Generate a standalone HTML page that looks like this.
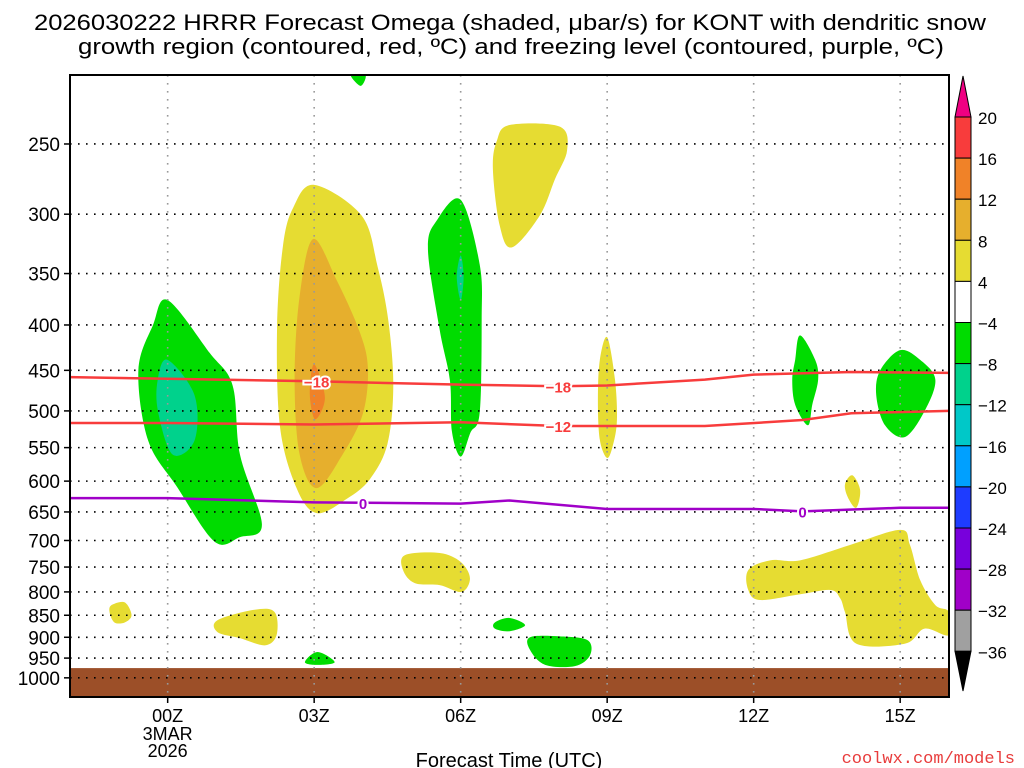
<!DOCTYPE html>
<html><head><meta charset="utf-8"><style>
html,body{margin:0;padding:0;background:#fff;}
svg{display:block;font-family:"Liberation Sans",sans-serif;}
</style></head><body>
<svg id="chart" width="1024" height="768" viewBox="0 0 1024 768" xmlns="http://www.w3.org/2000/svg">
<text x="34" y="30" font-size="22" textLength="952" lengthAdjust="spacingAndGlyphs">2026030222 HRRR Forecast Omega (shaded, μbar/s) for KONT with dendritic snow</text>
<text x="78" y="54" font-size="22" textLength="866" lengthAdjust="spacingAndGlyphs">growth region (contoured, red, ºC) and freezing level (contoured, purple, ºC)</text>
<g id="fills"></g>
<g id="grid"></g>
<g id="lines"></g>
<g id="axes"></g>
<g id="cbar"></g>
<text x="509" y="767" font-size="20" text-anchor="middle">Forecast Time (UTC)</text>
<text x="1015" y="763" font-size="17" fill="#e83c3c" text-anchor="end" font-family="Liberation Mono, monospace">coolwx.com/models</text>
</svg>
<script>
const NS="http://www.w3.org/2000/svg";
// ---- data ----
const pressureTicks=[250,300,350,400,450,500,550,600,650,700,750,800,850,900,950,1000];
const timeTicks=[0,3,6,9,12,15];
const timeLabels=["00Z","03Z","06Z","09Z","12Z","15Z"];
const cbarLevels=[20,16,12,8,4,-4,-8,-12,-16,-20,-24,-28,-32,-36];
const cbarColors=["#f83c3c","#f08228","#e6af2d","#e6dc32","#ffffff","#00dc00","#00d28c","#00c8c8","#00a0ff","#1e3cff","#7800dc","#a000c8","#a0a0a0"];
const t18Hours=[-2,0,3,6,8,9,11,12,14,16];
const t18Press=[458,460,463,467,469,468,461,455,452,453];
const t12Hours=[-2,0,3,6,8,11,13,14,16];
const t12Press=[516,516,518,515,520,520,512,503,500];
const t0Hours=[-2,0,3,6,7,9,12,13,15,16];
const t0Press=[627,627,634,636,631,645,645,649,643,643];
// omega regions as [hour, hPa] outlines
const yellowTop=[[7.0,238],[8.03,239],[8.18,254],[7.93,274],[7.62,301],[7.05,327],[6.8,309],[6.66,267],[6.74,248]];
const yellow03=[[3.0,278],[3.97,301],[4.3,344],[4.52,396],[4.62,469],[4.5,545],[4.14,597],[3.67,628],[3.05,652],[2.64,611],[2.3,521],[2.24,403],[2.36,326],[2.57,295]];
const orange03=[[2.98,320],[3.47,357],[3.93,407],[4.1,447],[4.0,503],[3.59,559],[3.05,611],[2.7,559],[2.6,460],[2.7,372]];
const dkorange03=[[3,443],[3.22,483],[3.02,511],[2.91,478]];
const green00=[[0,375],[0.86,430],[1.33,468],[1.48,560],[1.93,672],[1.48,694],[0.96,702],[0.2,610],[-0.4,540],[-0.6,450],[-0.3,400]];
const teal00=[[0,438],[0.55,480],[0.55,540],[0.1,560],[-0.2,500],[-0.2,460]];
const green06=[[6,289],[6.39,342],[6.43,395],[6.39,502],[6.2,529],[6,563],[5.82,527],[5.78,462],[5.57,405],[5.33,329],[5.51,305]];
const teal06=[[6,334],[6.06,353],[6,375],[5.92,353]];
const yellow09=[[9,413],[9.16,461],[9.2,512],[9.12,546],[9,565],[8.85,539],[8.81,486],[8.85,438]];
const green13=[[12.95,411],[13.26,438],[13.32,461],[13.2,492],[13.11,519],[12.85,492],[12.79,461],[12.85,438]];
const green15=[[15,427],[15.41,438],[15.72,461],[15.51,499],[15.1,535],[14.69,519],[14.51,480],[14.59,450]];
const yellow14=[[14.02,591],[14.18,614],[14.1,643],[13.93,626],[13.87,605]];
const yellowLR=[[11.89,756],[12.34,737],[12.95,737],[13.98,708],[15,681],[15.2,708],[15.41,776],[15.72,828],[16,843],[16,895],[15.5,880],[15.1,915],[14.1,915],[13.87,843],[13.77,813],[13.57,796],[12.95,805],[12.13,817],[11.89,796]];
const yellow05=[[4.86,727],[5.57,723],[6,740],[6.19,772],[6.02,800],[5.57,786],[5.06,782],[4.82,756]];
const yellowM1=[[-1.15,828],[-0.88,822],[-0.74,850],[-0.88,866],[-1.09,866],[-1.19,843]];
const yellow01=[[1.02,861],[1.78,838],[2.19,843],[2.23,895],[1.99,919],[1.48,902],[1.02,888]];
const green07=[[6.7,866],[7.0,856],[7.32,872],[7.0,886],[6.7,880]];
const green08=[[7.42,900],[8.03,898],[8.6,907],[8.65,943],[8.34,970],[7.73,967],[7.42,930]];
const green03b=[[2.81,960],[3.07,935],[3.42,960],[3.07,967]];
const greenTop=[[3.75,209],[3.95,215],[4.05,209]];
const groundTop=975;
// ---- axes ----
const X0=70,X1=949,Y0=75,Y1=697,H0=-2,H1=16,PT=209,PB=1051;
const xs=h=>X0+(h-H0)/(H1-H0)*(X1-X0);
const ys=p=>Y0+Math.log(p/PT)/Math.log(PB/PT)*(Y1-Y0);
function mk(tag,attrs,parent){const e=document.createElementNS(NS,tag);for(const k in attrs)e.setAttribute(k,attrs[k]);parent.appendChild(e);return e;}
const fills=document.getElementById('fills');
function smoothPath(pts){
  const P=pts.map(([h,p])=>[xs(h),ys(p)]);const n=P.length;let d=`M${P[0][0]},${P[0][1]}`;
  for(let i=0;i<n;i++){const p0=P[(i-1+n)%n],p1=P[i],p2=P[(i+1)%n],p3=P[(i+2)%n];
    const c1=[p1[0]+(p2[0]-p0[0])/6,p1[1]+(p2[1]-p0[1])/6],c2=[p2[0]-(p3[0]-p1[0])/6,p2[1]-(p3[1]-p1[1])/6];
    d+=` C${c1[0]},${c1[1]} ${c2[0]},${c2[1]} ${p2[0]},${p2[1]}`;}
  return d+'Z';}
function region(pts,color,name){const e=mk('path',{d:smoothPath(pts),fill:color},fills);
  
  }
const defsEl=mk('defs',{},document.getElementById('chart'));
const clipEl=mk('clipPath',{id:'pc'},defsEl);
mk('rect',{x:X0,y:Y0,width:X1-X0,height:Y1-Y0},clipEl);
fills.setAttribute('clip-path','url(#pc)');
region(greenTop,"#00dc00","omega-green-top");
region(yellowTop,"#e6dc32","omega-yellow-07z");
region(yellow03,"#e6dc32","omega-yellow-03z");
region(orange03,"#e6af2d","omega-orange-03z");
region(dkorange03,"#f08228","omega-dark-orange-03z");
region(green00,"#00dc00","omega-green-00z");
region(teal00,"#00d28c","omega-teal-00z");
region(green06,"#00dc00","omega-green-06z");
region(teal06,"#00d28c","omega-teal-06z");
region(yellow09,"#e6dc32","omega-yellow-09z");
region(green13,"#00dc00","omega-green-13z");
region(green15,"#00dc00","omega-green-15z");
region(yellow14,"#e6dc32","omega-yellow-14z");
region(yellowLR,"#e6dc32","omega-yellow-lower-right");
region(yellow05,"#e6dc32","omega-yellow-05z");
region(yellowM1,"#e6dc32","omega-yellow-m1z");
region(yellow01,"#e6dc32","omega-yellow-01z");
region(green07,"#00dc00","omega-green-07z");
region(green08,"#00dc00","omega-green-08z");
region(green03b,"#00dc00","omega-green-03z-low");
const gnd=mk('rect',{x:X0,y:ys(groundTop),width:X1-X0,height:Y1-ys(groundTop),fill:"#9c4f28"},fills);


// grid
const grid=document.getElementById('grid'),axes=document.getElementById('axes');
pressureTicks.forEach(p=>{const y=ys(p);
  const l=mk('line',{x1:X0,x2:X1,y1:y,y2:y,stroke:"#000","stroke-width":1.6,"stroke-dasharray":"1.6 6.4"},grid);
  
  
  mk('line',{x1:X0-6,x2:X0,y1:y,y2:y,stroke:"#000","stroke-width":1.5},axes);
  const t=mk('text',{x:X0-10,y:y+7,"font-size":19,"text-anchor":"end"},axes);t.textContent=p;
  
  });
timeTicks.forEach((h,i)=>{const x=xs(h);
  const l=mk('line',{x1:x,x2:x,y1:Y0,y2:Y1,stroke:"#999","stroke-width":1.6,"stroke-dasharray":"1.6 6.4"},grid);
  
  
  mk('line',{x1:x,x2:x,y1:Y1,y2:Y1+6,stroke:"#000","stroke-width":1.5},axes);
  const t=mk('text',{x:x,y:722,"font-size":18,"text-anchor":"middle"},axes);t.textContent=timeLabels[i];
  
  });
[["3MAR",740],["2026",757]].forEach(([s,y])=>{const t=mk('text',{x:xs(0),y:y,"font-size":18,"text-anchor":"middle"},axes);t.textContent=s;
  
  });
const fr=mk('rect',{x:X0,y:Y0,width:X1-X0,height:Y1-Y0,fill:"none",stroke:"#000","stroke-width":2},axes);


// contour lines
const lines=document.getElementById('lines');
function cline(H,P,color,name,labels){
  const d=H.map((h,i)=>(i?'L':'M')+xs(h)+','+ys(P[i])).join(' ');
  const e=mk('path',{d:d,fill:"none",stroke:color,"stroke-width":2.5},lines);
  
  
  labels.forEach(([h,s])=>{let p=P[0];for(let i=0;i<H.length-1;i++)if(h>=H[i]&&h<=H[i+1])p=P[i]+(P[i+1]-P[i])*(h-H[i])/(H[i+1]-H[i]);
    const x=xs(h),y=ys(p);
    const t=mk('text',{x:x,y:y+6,"font-size":15,"font-weight":"bold",fill:color,"text-anchor":"middle",stroke:"#fff","stroke-width":4,"paint-order":"stroke"},lines);t.textContent=s;
    
    });}
cline(t18Hours,t18Press,"#f83c3c","isotherm-minus18",[[3.05,"−18"],[8,"−18"]]);
cline(t12Hours,t12Press,"#f83c3c","isotherm-minus12",[[8,"−12"]]);
cline(t0Hours,t0Press,"#a000c8","freezing-level",[[4,"0"],[13,"0"]]);
// colorbar
const cb=document.getElementById('cbar');const CX=955,CW=16,CT=117,CS=41.1;
cbarColors.forEach((c,i)=>{const r=mk('rect',{x:CX,y:CT+i*CS,width:CW,height:CS,fill:c,stroke:"#000","stroke-width":1},cb);
  
  });
const cbTop=mk('polygon',{points:`${CX},${CT} ${CX+CW},${CT} ${CX+CW/2},76`,fill:"#f00082",stroke:"#000"},cb);


const cbBot=CT+cbarColors.length*CS;
const ba=mk('polygon',{points:`${CX},${cbBot} ${CX+CW},${cbBot} ${CX+CW/2},691`,fill:"#000",stroke:"#000"},cb);


cbarLevels.forEach((v,i)=>{const t=mk('text',{x:978,y:CT+i*CS+7,"font-size":17},cb);t.textContent=v<0?'−'+(-v):v;
  
  });
</script>
</body></html>
